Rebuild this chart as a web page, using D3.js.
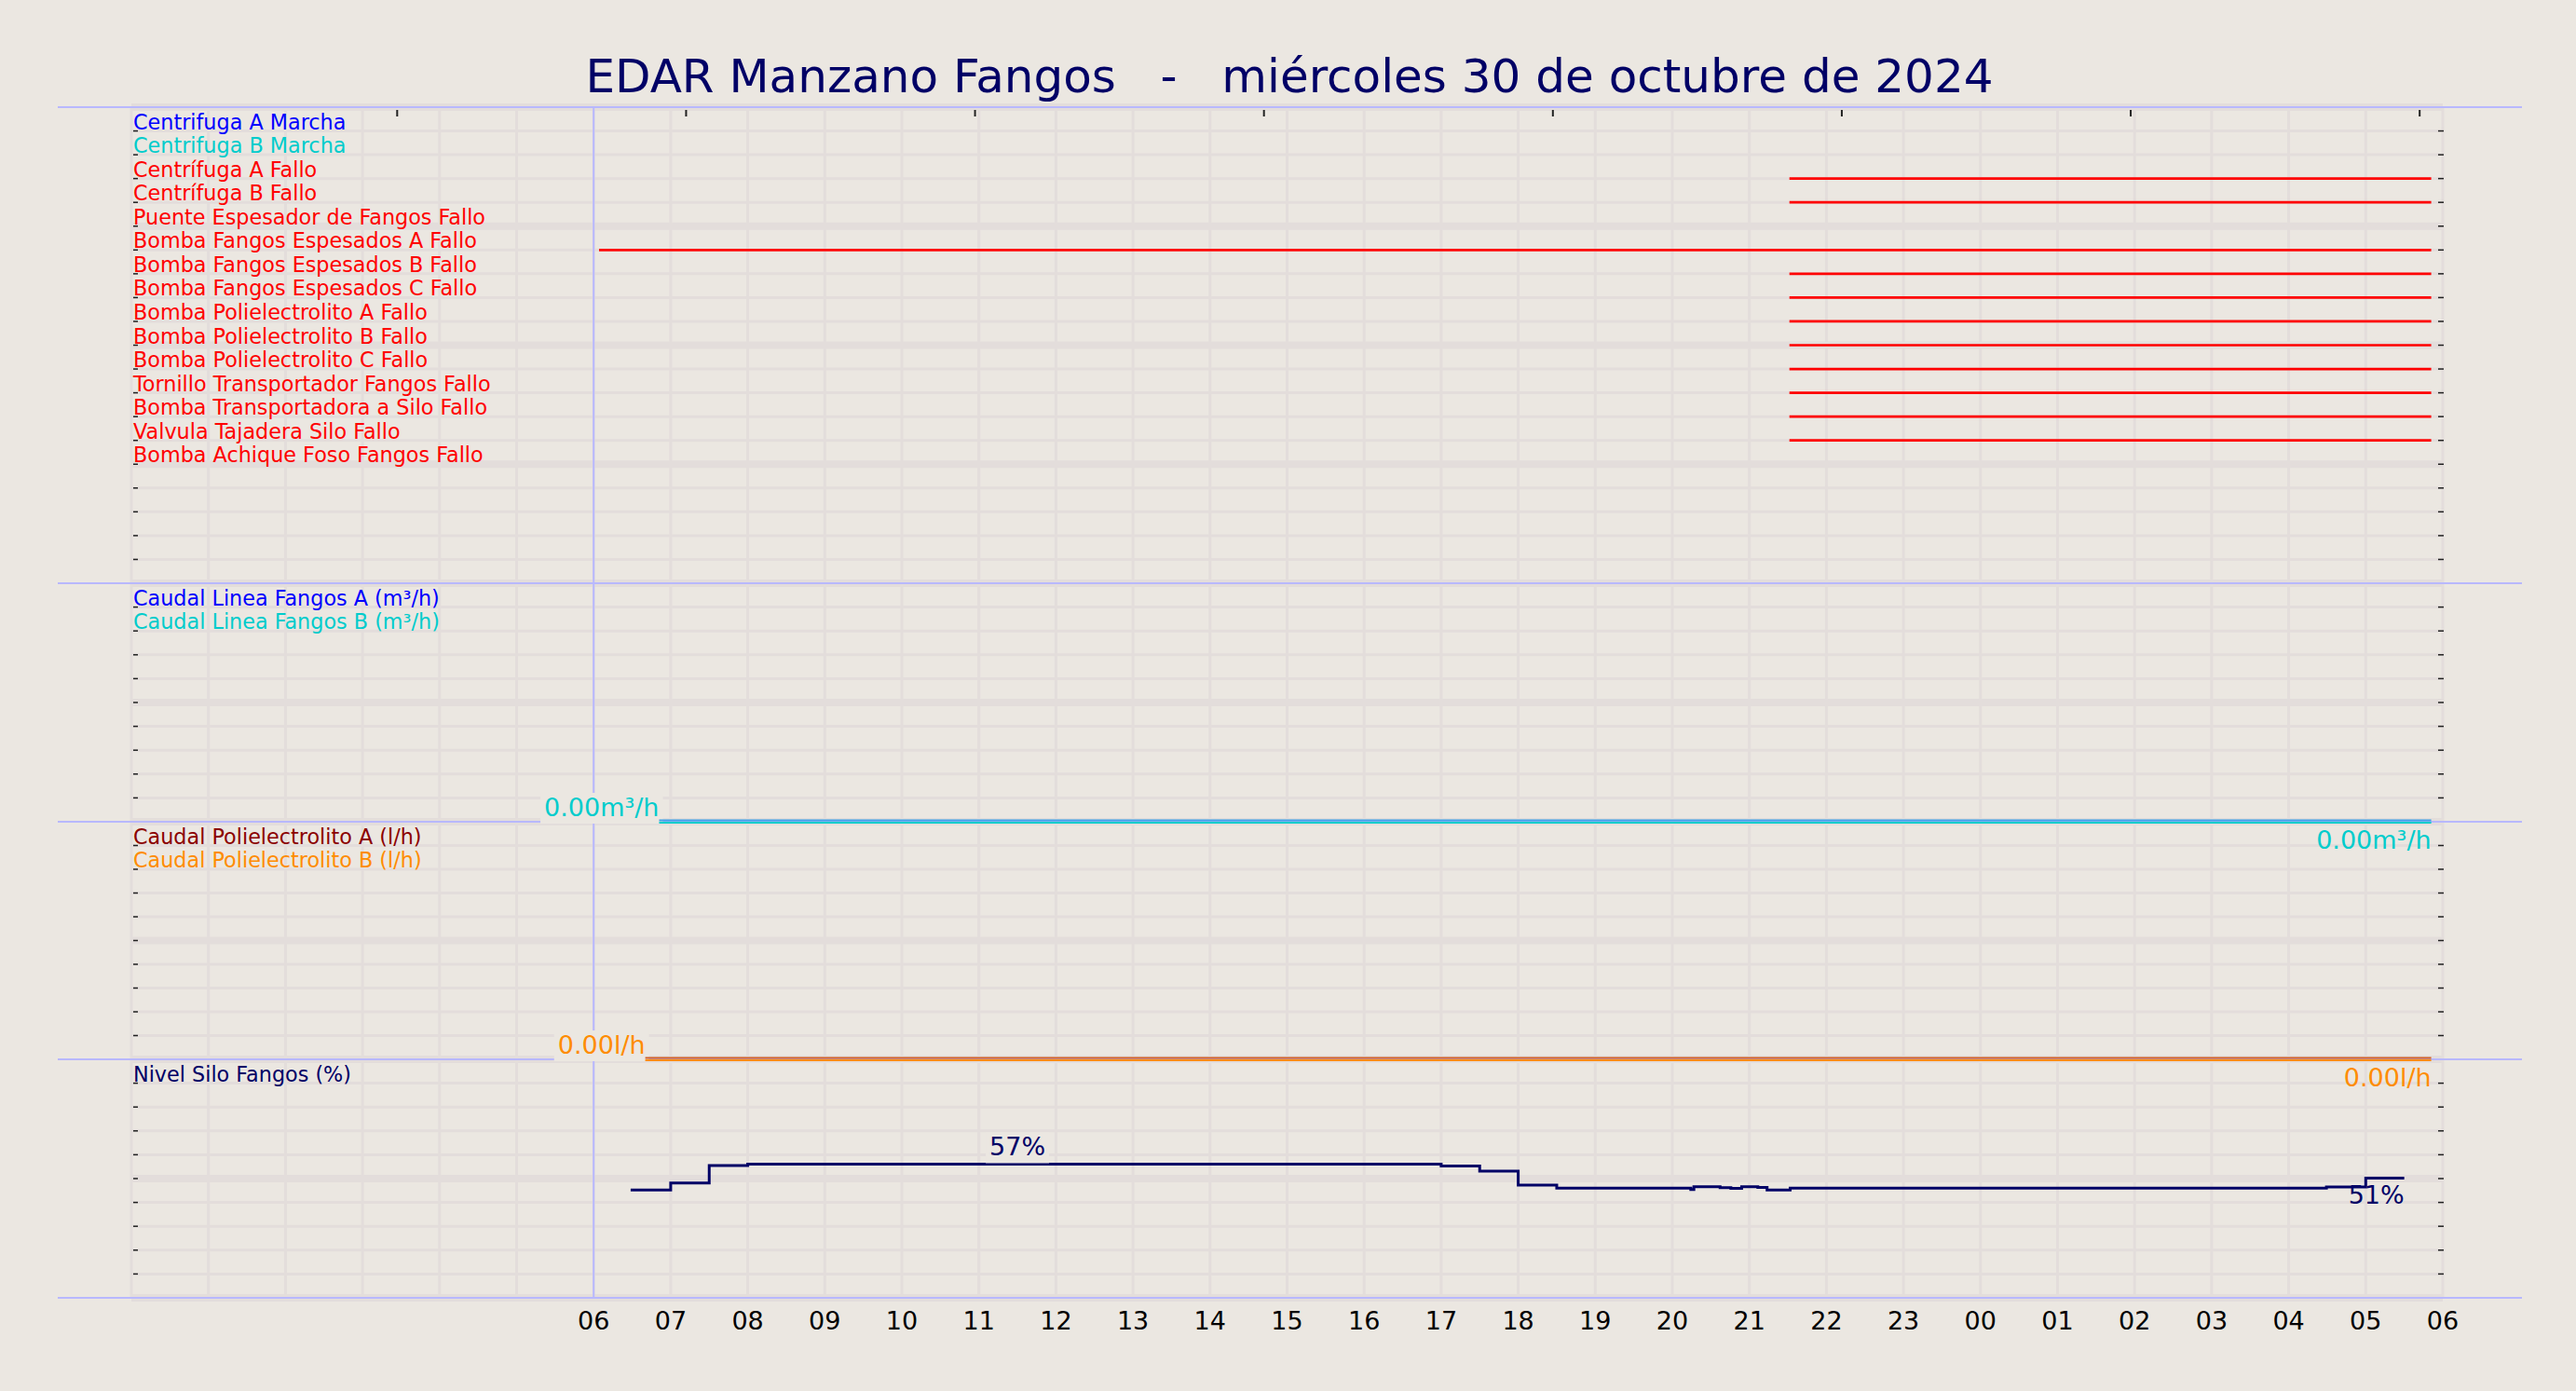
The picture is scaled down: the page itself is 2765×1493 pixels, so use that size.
<!DOCTYPE html>
<html><head><meta charset="utf-8">
<script src="https://cdn.jsdelivr.net/npm/d3@7"></script>
<style>body{margin:0;background:#ebe7e1}svg{display:block}text{font-family:"DejaVu Sans",sans-serif}</style>
</head><body>
<script>
const W=2765,H=1493;
const title="EDAR Manzano Fangos   -   miércoles 30 de octubre de 2024";
const statusLabels=["Centrifuga A Marcha","Centrifuga B Marcha","Centrífuga A Fallo","Centrífuga B Fallo","Puente Espesador de Fangos Fallo","Bomba Fangos Espesados A Fallo","Bomba Fangos Espesados B Fallo","Bomba Fangos Espesados C Fallo","Bomba Polielectrolito A Fallo","Bomba Polielectrolito B Fallo","Bomba Polielectrolito C Fallo","Tornillo Transportador Fangos Fallo","Bomba Transportadora a Silo Fallo","Valvula Tajadera Silo Fallo","Bomba Achique Foso Fangos Fallo"];
const statusColors=["#0000ff","#00cccc","#ff0000","#ff0000","#ff0000","#ff0000","#ff0000","#ff0000","#ff0000","#ff0000","#ff0000","#ff0000","#ff0000","#ff0000","#ff0000"];
const faultStart=[null,null,21.52,21.52,null,6.07,21.52,21.52,21.52,21.52,21.52,21.52,21.52,21.52,null];
const dataEnd=29.85;
const caudalLabels=["Caudal Linea Fangos A (m³/h)","Caudal Linea Fangos B (m³/h)"];
const caudalLabelColors=["#0000ff","#00cccc"];
const caudalColors=["#3f9fe8","#00cccc"];
const caudalStart=6.85, caudalValue=0;
const poliLabels=["Caudal Polielectrolito A (l/h)","Caudal Polielectrolito B (l/h)"];
const poliLabelColors=["#8b0000","#ff8c00"];
const poliColors=["#d0602a","#ff8c00"];
const poliStart=6.67, poliValue=0;
const nivelLabel="Nivel Silo Fangos (%)";
const levelTimes=[6.48,7.0,7.5,8.0,17.0,17.5,18.0,18.5,20.24,20.28,20.62,20.76,20.9,21.11,21.23,21.53,28.49,29.0,29.5];
const levelValues=[45.7,48.7,56.4,57.0,56.2,53.9,47.8,46.5,45.9,47.1,46.7,46.4,47.1,46.8,45.6,46.5,47.0,50.9,50.9];
const hourTicks=[6,7,8,9,10,11,12,13,14,15,16,17,18,19,20,21,22,23,24,25,26,27,28,29,30];
const topTicks=[3.45,7.2,10.95,14.7,18.45,22.2,25.95,29.7];

const bg="#ebe7e1",grid="#e3dddb",sep="#b8b8ff";
const svg=d3.select("body").append("svg").attr("width",W).attr("height",H);
svg.append("rect").attr("width",W).attr("height",H).attr("fill",bg);
const x=d3.scaleLinear().domain([0,30]).range([141,2622]);
const panels=[{t:115,b:626,n:20},{t:626,b:882,n:10},{t:882,b:1137,n:10},{t:1137,b:1393,n:10}];
const gG=svg.append("g");
gG.selectAll("line.v").data(d3.range(0,31)).join("line")
 .attr("x1",d=>x(d)).attr("x2",d=>x(d)).attr("y1",115).attr("y2",1393)
 .attr("stroke",grid).attr("stroke-width",3);
panels.forEach(p=>{
  const ys=d3.scaleLinear().domain([0,p.n]).range([p.t,p.b]);
  p.ys=ys;
  gG.selectAll(null).data(d3.range(0,p.n+1)).join("line")
   .attr("x1",141).attr("x2",2622).attr("y1",d=>ys(d)).attr("y2",d=>ys(d))
   .attr("stroke",grid).attr("stroke-width",d=>d%5===0?8:3);
  gG.selectAll(null).data(d3.range(1,p.n)).join("line")
   .attr("x1",2617).attr("x2",2623).attr("y1",d=>ys(d)).attr("y2",d=>ys(d))
   .attr("stroke","#222").attr("stroke-width",1.5);
  gG.selectAll(null).data(d3.range(1,p.n)).join("line")
   .attr("x1",143).attr("x2",148).attr("y1",d=>ys(d)).attr("y2",d=>ys(d))
   .attr("stroke","#222").attr("stroke-width",1.5);
});
svg.append("line").attr("x1",x(6)).attr("x2",x(6)).attr("y1",115).attr("y2",1393).attr("stroke",sep).attr("stroke-width",2);
svg.selectAll("line.sep").data([115,626,882,1137,1393]).join("line")
 .attr("x1",62).attr("x2",2707).attr("y1",d=>d).attr("y2",d=>d).attr("stroke",sep).attr("stroke-width",2);
svg.selectAll("line.tt").data(topTicks).join("line")
 .attr("x1",d=>x(d)).attr("x2",d=>x(d)).attr("y1",118).attr("y2",125).attr("stroke","#222").attr("stroke-width",2);

svg.append("text").attr("x",1384).attr("y",99).attr("text-anchor","middle").attr("font-size",50).attr("fill","#000066").attr("xml:space","preserve").style("white-space","pre").text(title);

const p0=panels[0];
const yS=i=>p0.ys(i+1);
const LFS=22.3;
svg.selectAll("text.sl").data(statusLabels).join("text")
 .attr("x",143).attr("y",(d,i)=>yS(i)-2).attr("font-size",LFS).attr("fill",(d,i)=>statusColors[i]).text(d=>d);
svg.selectAll("line.f").data(faultStart.map((s,i)=>({s,i})).filter(d=>d.s!==null)).join("line")
 .attr("x1",d=>x(d.s)).attr("x2",x(dataEnd)).attr("y1",d=>yS(d.i)).attr("y2",d=>yS(d.i))
 .attr("stroke",d=>statusColors[d.i]).attr("stroke-width",2.7);

function labelBox(txt,ax,ay,anchor,color,withBg){
  const t=svg.append("text").attr("x",ax).attr("y",ay).attr("text-anchor",anchor).attr("font-size",27).attr("fill",color).text(txt);
  if(withBg){const b=t.node().getBBox();
    svg.insert("rect",()=>t.node()).attr("x",b.x-4).attr("y",b.y).attr("width",b.width+8).attr("height",b.height+2).attr("fill",bg);}
}
function flowPanel(p,labels,labelColors,colors,start,val,unit){
  const y=d3.scaleLinear().domain([0,10]).range([p.b,p.t]);
  labels.forEach((l,i)=>svg.append("text").attr("x",143).attr("y",p.ys(i+1)-2).attr("font-size",LFS).attr("fill",labelColors[i]).text(l));
  labelBox(val.toFixed(2)+unit,x(start),y(val)-6,"end",colors[1],true);
  colors.forEach((c,i)=>svg.append("line").attr("x1",x(start)).attr("x2",x(dataEnd))
    .attr("y1",y(val)+(i===0?-1.5:1)).attr("y2",y(val)+(i===0?-1.5:1)).attr("stroke",c).attr("stroke-width",2));
  labelBox(val.toFixed(2)+unit,x(dataEnd),y(val)+29,"end",colors[1],false);
}
flowPanel(panels[1],caudalLabels,caudalLabelColors,caudalColors,caudalStart,caudalValue,"m³/h");
flowPanel(panels[2],poliLabels,poliLabelColors,poliColors,poliStart,poliValue,"l/h");

const p3=panels[3];
svg.append("text").attr("x",143).attr("y",p3.ys(1)-2).attr("font-size",LFS).attr("fill","#000066").text(nivelLabel);
const yL=d3.scaleLinear().domain([-1.6,102.9]).range([p3.b,p3.t]);
const lv=levelTimes.map((t,i)=>[t,levelValues[i]]);
svg.append("path").attr("d",d3.line().x(d=>x(d[0])).y(d=>yL(d[1])).curve(d3.curveStepAfter)(lv))
 .attr("fill","none").attr("stroke","#000066").attr("stroke-width",3);
const maxV=d3.max(levelValues);
labelBox(Math.round(maxV)+"%",x(11.5),yL(maxV)-9,"middle","#000066",true);
labelBox(Math.round(levelValues[levelValues.length-1])+"%",x(levelTimes[levelTimes.length-1]),yL(levelValues[levelValues.length-1])+28,"end","#000066",false);

svg.selectAll("text.xt").data(hourTicks).join("text")
 .attr("x",d=>x(d)).attr("y",1427).attr("text-anchor","middle").attr("font-size",27).attr("fill","#000")
 .text(d=>String(d%24).padStart(2,"0"));
</script>
</body></html>
